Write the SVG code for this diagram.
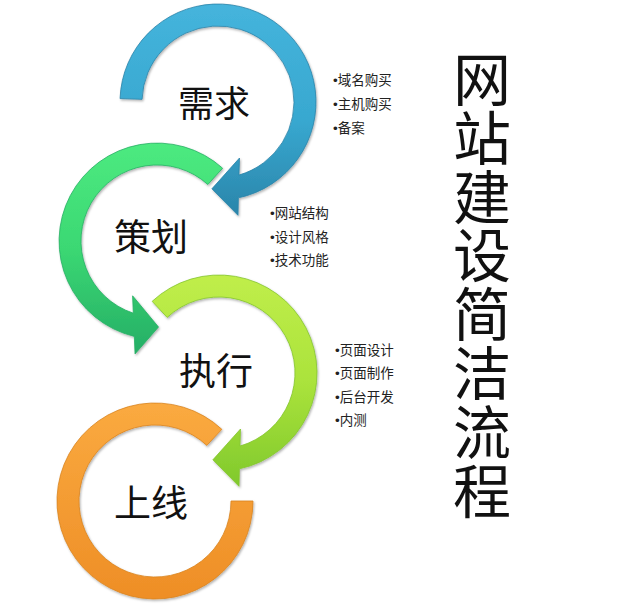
<svg xmlns="http://www.w3.org/2000/svg" width="622" height="607" viewBox="0 0 622 607">
<style>
.lbl{font-family:"Noto Sans CJK SC","Noto Sans",sans-serif;font-size:37px;fill:#111;text-anchor:middle}
.bul{font-family:"Liberation Sans","Noto Sans CJK SC",sans-serif;font-size:13.5px;fill:#222}
.title{font-family:"Noto Sans CJK SC",sans-serif;font-size:58px;fill:#111;writing-mode:vertical-rl;letter-spacing:0.8px}
.ring{stroke-width:0.8;filter:url(#sh)}
</style>
<defs>
<filter id="sh" x="-10%" y="-10%" width="120%" height="120%">
<feDropShadow dx="1" dy="1.5" stdDeviation="1.2" flood-color="#000" flood-opacity="0.3"/>
</filter>
<linearGradient id="gB" x1="0" y1="0" x2="0" y2="1">
<stop offset="0" stop-color="#45B4DC"/><stop offset="0.55" stop-color="#38A8D0"/><stop offset="1" stop-color="#2A85AA"/>
</linearGradient>
<linearGradient id="gG" x1="0" y1="0" x2="0" y2="1">
<stop offset="0" stop-color="#4DEA80"/><stop offset="0.5" stop-color="#3BD873"/><stop offset="1" stop-color="#25AE66"/>
</linearGradient>
<linearGradient id="gY" x1="0" y1="0" x2="0" y2="1">
<stop offset="0" stop-color="#C0EE4A"/><stop offset="0.5" stop-color="#ABE33C"/><stop offset="1" stop-color="#80C92C"/>
</linearGradient>
<linearGradient id="gO" x1="0" y1="0" x2="0" y2="1">
<stop offset="0" stop-color="#FAAA40"/><stop offset="1" stop-color="#EE8E26"/>
</linearGradient>
</defs>
<rect width="622" height="607" fill="#fff"/>
<g id="connectors">
<path class="ring" fill="url(#gB)" stroke="#2A83A8" d="M120.06,98.58 A98,98 0 1 1 238.37,197.86 L238.0,215.3 L211.9,188.8 L239.5,158.0 L238.95,175.06 A76,76 0 1 0 142.05,99.35 Z"/>
<path class="ring" fill="url(#gG)" stroke="#27B064" d="M222.6,168.2 A98,98 0 1 0 134.32,336.4 L135.06,353.9 L158.5,327.0 L132.6,295.8 L133.34,313.2 A76,76 0 1 1 207.85,184.5 Z"/>
<path class="ring" fill="url(#gY)" stroke="#84C52E" d="M152.16,301.33 A98,98 0 1 1 239.37,468.86 L239.0,486.3 L212.9,459.8 L240.5,429.0 L239.95,446.06 A76,76 0 1 0 167.17,317.42 Z"/>
<path class="ring" fill="url(#gO)" stroke="#D98420" d="M253,501 A98,98 0 1 1 221.84,429.33 L206.83,445.42 A76,76 0 1 0 231,501 Z"/>
</g>
<g id="node-xuqiu">
<text class="lbl" x="214" y="117" style="font-size:36px">需求</text>
<text class="bul" x="333" y="85">•域名购买</text>
<text class="bul" x="333" y="108.5">•主机购买</text>
<text class="bul" x="333" y="133">•备案</text>
</g>
<g id="node-cehua">
<text class="lbl" x="151" y="251">策划</text>
<text class="bul" x="270" y="218">•网站结构</text>
<text class="bul" x="270" y="242">•设计风格</text>
<text class="bul" x="270" y="265">•技术功能</text>
</g>
<g id="node-zhixing">
<text class="lbl" x="216" y="385">执行</text>
<text class="bul" x="335" y="355">•页面设计</text>
<text class="bul" x="335" y="378">•页面制作</text>
<text class="bul" x="335" y="402">•后台开发</text>
<text class="bul" x="335" y="425">•内测</text>
</g>
<g id="node-shangxian">
<text class="lbl" x="151" y="517">上线</text>
</g>
<g id="title">
<text class="title" x="482" y="50">网站建设简洁流程</text>
</g>
</svg>
